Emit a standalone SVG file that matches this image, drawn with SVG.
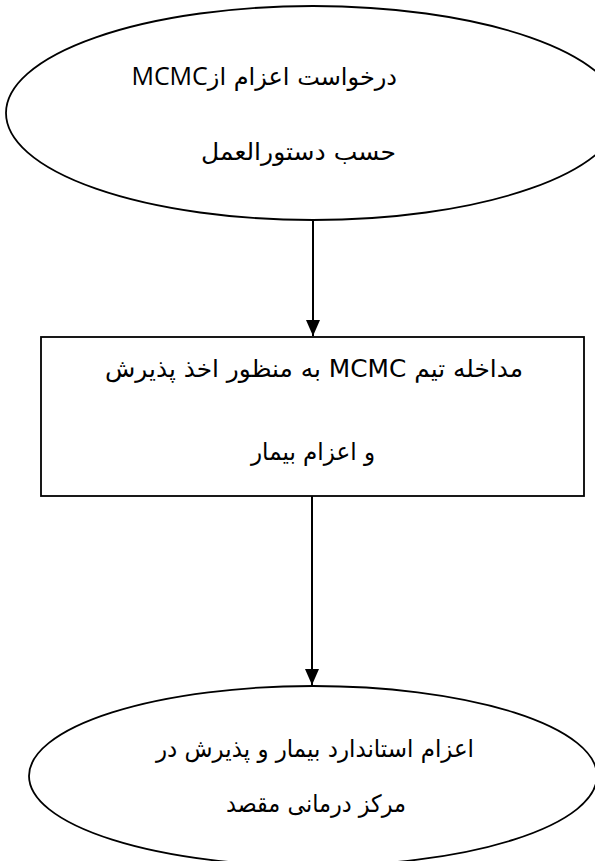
<svg xmlns="http://www.w3.org/2000/svg" width="595" height="861" viewBox="0 0 595 861">
<style>
.shape{fill:#ffffff;stroke:#000000;stroke-width:1.8}
.conn{stroke:#000000;stroke-width:2;fill:none}
.t{font-family:"DejaVu Sans","Liberation Sans",sans-serif;font-size:24px;fill:#000000;direction:rtl;unicode-bidi:embed}
.lat{font-family:"Open Sans","Liberation Sans",sans-serif;font-size:25px}
</style>
<defs>
<marker id="ah" markerWidth="16" markerHeight="14" refX="16" refY="7" orient="auto" markerUnits="userSpaceOnUse" viewBox="0 0 16 14">
<path d="M0,0 L16,7 L0,14 Z" fill="#000000"/>
</marker>
</defs>
<rect width="595" height="861" fill="#ffffff"/>
<g id="node-start">
<ellipse class="shape" cx="313" cy="113" rx="307" ry="107"/>
<text class="t" x="397" y="85" text-anchor="start">درخواست اعزام از<tspan class="lat">MCMC</tspan></text>
<text class="t" x="396" y="160" text-anchor="start" textLength="195" lengthAdjust="spacingAndGlyphs">حسب دستورالعمل</text>
</g>
<g id="node-process">
<rect class="shape" x="41" y="337" width="543" height="159"/>
<text class="t" x="314" y="377" text-anchor="middle" textLength="418" lengthAdjust="spacingAndGlyphs">مداخله تیم MCMC به منظور اخذ پذیرش</text>
<text class="t" x="313" y="460" text-anchor="middle" textLength="124" lengthAdjust="spacingAndGlyphs">و اعزام بیمار</text>
</g>
<g id="node-end">
<ellipse class="shape" cx="313" cy="776" rx="284" ry="90"/>
<text class="t" x="315" y="757" text-anchor="middle" textLength="318" lengthAdjust="spacingAndGlyphs">اعزام استاندارد بیمار و پذیرش در</text>
<text class="t" x="316" y="812" text-anchor="middle" textLength="180" lengthAdjust="spacingAndGlyphs">مرکز درمانی مقصد</text>
</g>
<g id="connectors">
<line class="conn" x1="313" y1="220" x2="313" y2="336" marker-end="url(#ah)"/>
<line class="conn" x1="312" y1="496" x2="312" y2="685" marker-end="url(#ah)"/>
</g>
</svg>
